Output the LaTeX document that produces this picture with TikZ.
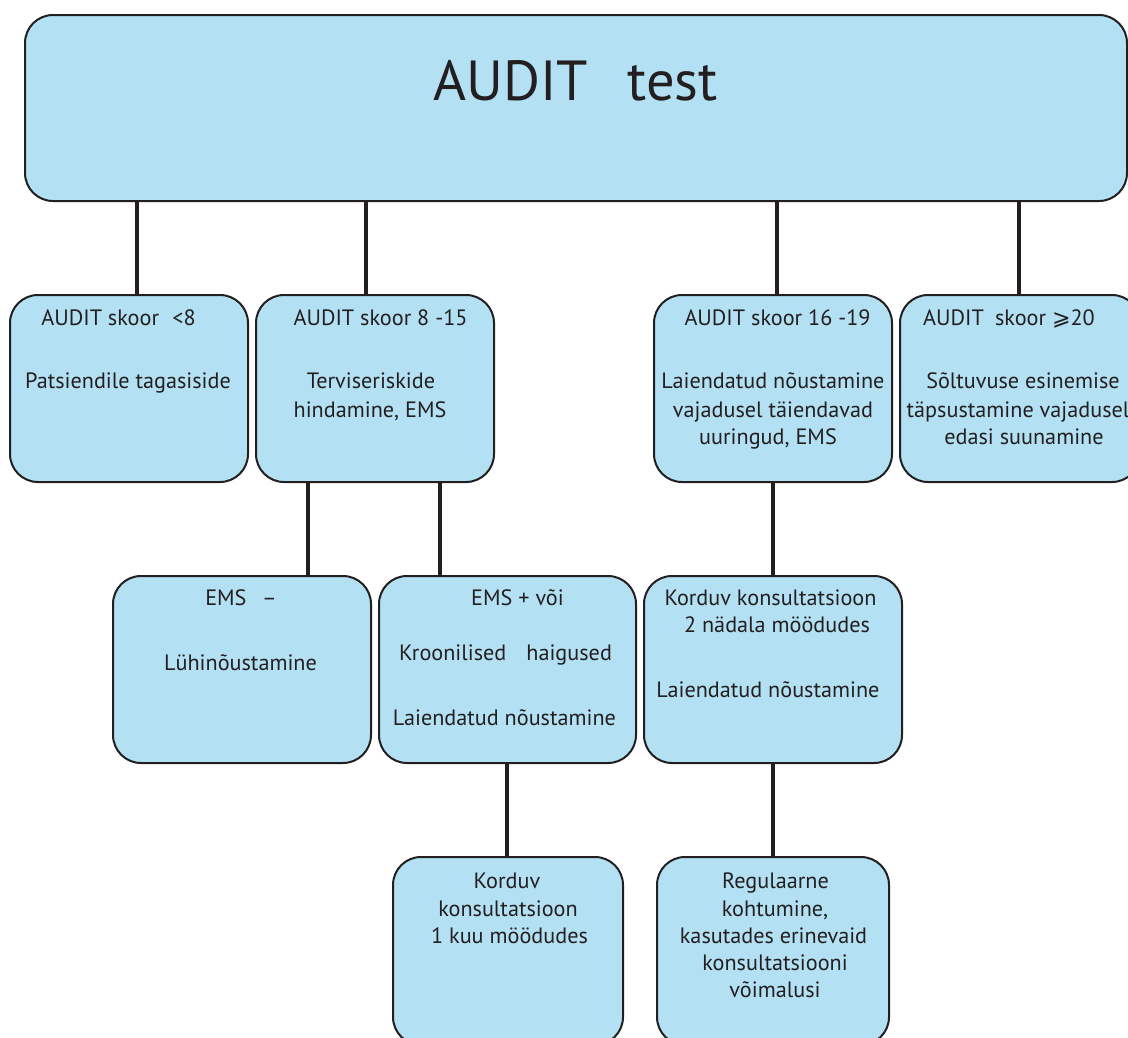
\documentclass[tikz,border=0pt]{standalone}
\usepackage{fontspec}
\setmainfont{PT Sans}
\newfontfamily\symfont{DejaVu Sans}
\definecolor{boxfill}{RGB}{179,225,243}
\definecolor{ink}{RGB}{35,31,32}
\tikzset{
  box/.style={draw=ink, line width=2pt, fill=boxfill, rounded corners=28pt, inner sep=0pt},
  conn/.style={draw=ink, line width=4.5pt},
  lbl/.style={inner sep=0pt, anchor=base, text=ink, font=\fontsize{22.2}{26}\selectfont},
  ttl/.style={inner sep=0pt, anchor=base, text=ink, font=\fontsize{56.5}{60}\selectfont}
}
\begin{document}
\begin{tikzpicture}[x=1pt,y=-1pt]
\useasboundingbox (0,0) rectangle (1128,1037);
% boxes
\node[box, minimum width=1102pt, minimum height=186pt] (top) at (576,108) {};
\node[box, minimum width=238pt, minimum height=187pt] (A) at (129,388.5) {};
\node[box, minimum width=238pt, minimum height=187pt] (B) at (375,388.5) {};
\node[box, minimum width=238pt, minimum height=187pt] (C) at (773,388.5) {};
\node[box, minimum width=240pt, minimum height=187pt] (D) at (1020,388.5) {};
\node[box, minimum width=258pt, minimum height=187pt] (E) at (242,669.5) {};
\node[box, minimum width=257pt, minimum height=187pt] (F) at (507.5,669.5) {};
\node[box, minimum width=258pt, minimum height=187pt] (G) at (773,669.5) {};
\node[box, minimum width=230pt, minimum height=188pt] (H) at (508,951) {};
\node[box, minimum width=232pt, minimum height=188pt] (I) at (773,951) {};
% connector columns
\coordinate (cA) at (137,0);
\coordinate (cB) at (366,0);
\coordinate (cC) at (777,0);
\coordinate (cD) at (1019,0);
\coordinate (cE) at (308,0);
\coordinate (cF) at (440,0);
\coordinate (cG) at (773,0);
\coordinate (cH) at (507,0);
\coordinate (cI) at (773,0);
\draw[conn] (top.south -| cA) -- (A.north -| cA);
\draw[conn] (top.south -| cB) -- (B.north -| cB);
\draw[conn] (top.south -| cC) -- (C.north -| cC);
\draw[conn] (top.south -| cD) -- (D.north -| cD);
\draw[conn] (B.south -| cE) -- (E.north -| cE);
\draw[conn] (B.south -| cF) -- (F.north -| cF);
\draw[conn] (C.south -| cG) -- (G.north -| cG);
\draw[conn] (F.south -| cH) -- (H.north -| cH);
\draw[conn] (G.south -| cI) -- (I.north -| cI);
% title
\node[ttl] (t0) at (575.5,100) {AUDIT\hspace{0.7em}test};
% A
\node[lbl] (a1) at (118.5,325) {AUDIT skoor\hspace{0.6em}<8};
\node[lbl] (a2) at (128,388) {Patsiendile tagasiside};
% B
\node[lbl] (b1) at (380.5,325) {AUDIT skoor 8 -15};
\node[lbl] (b2) at (371,388) {Terviseriskide};
\node[lbl] (b3) at (370,417) {hindamine, EMS};
% C
\node[lbl] (c1) at (777.5,325) {AUDIT skoor 16 -19};
\node[lbl] (c2) at (773,388) {Laiendatud nõustamine};
\node[lbl] (c3) at (773,417) {vajadusel täiendavad};
\node[lbl] (c4) at (768,444) {uuringud, EMS};
% D
\node[lbl] (d1) at (1009,325) {AUDIT\hspace{0.5em}skoor {\symfont ⩾}20};
\node[lbl] (d2) at (1023,388) {Sõltuvuse esinemise};
\node[lbl] (d3) at (1018,417) {täpsustamine vajadusel};
\node[lbl] (d4) at (1024,444) {edasi suunamine};
% E
\node[lbl] (e1) at (241,605) {EMS\hspace{0.7em}–};
\node[lbl] (e2) at (240.5,670) {Lühinõustamine};
% F
\node[lbl] (f1) at (517.5,605) {EMS + või};
\node[lbl] (f2) at (505.5,660) {Kroonilised\hspace{0.9em}haigused};
\node[lbl] (f3) at (504.5,725) {Laiendatud nõustamine};
% G
\node[lbl] (g1) at (770.5,605) {Korduv konsultatsioon};
\node[lbl] (g2) at (777,632) {2 nädala möödudes};
\node[lbl] (g3) at (768,697) {Laiendatud nõustamine};
% H
\node[lbl] (h1) at (507,888) {Korduv};
\node[lbl] (h2) at (508,916) {konsultatsioon};
\node[lbl] (h3) at (509.5,943) {1 kuu möödudes};
% I
\node[lbl] (i1) at (775.5,888) {Regulaarne};
\node[lbl] (i2) at (775,916) {kohtumine,};
\node[lbl] (i3) at (773.5,943) {kasutades erinevaid};
\node[lbl] (i4) at (775,970) {konsultatsiooni};
\node[lbl] (i5) at (775,997) {võimalusi};
\end{tikzpicture}
\end{document}
